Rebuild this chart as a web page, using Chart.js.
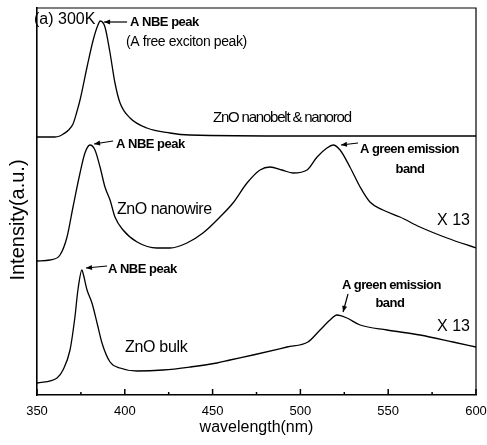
<!DOCTYPE html>
<html>
<head>
<meta charset="utf-8">
<script src="https://cdn.jsdelivr.net/npm/chart.js@4/dist/chart.umd.min.js"></script>
<style>
  html, body { margin: 0; padding: 0; background: #fff; }
  #plChart { display: block; }
</style>
</head>
<body>
<canvas id="plChart" width="487" height="445"></canvas>
<script>
// wavelength (nm) and stacked PL intensity (arbitrary offset units)
const nanobeltNm  = [350, 360, 363, 365, 368, 370.5, 372.5, 374.5, 378.5, 382, 384.7, 386, 388.7, 391.6, 394.4, 397.3, 403, 412.6, 425.7, 437, 500, 600];
const nanobeltInt = [258, 258, 259, 261, 265, 271, 282, 295, 328, 355, 370, 374, 368, 342, 312, 292, 277, 267, 262, 260, 259, 259];

const nanowireNm  = [350, 357.4, 363.1, 367.1, 370.5, 374.5, 377.3, 380.2, 383, 385.9, 388.7, 391.6, 394.4, 399, 407, 418.3, 425.7, 435.4, 444.5, 454.2, 461.6, 469.6, 477, 482.7, 489.5, 495.8, 503.8, 509.5, 515.1, 518.6, 522.6, 528.2, 534, 539.6, 547, 556.7, 568.1, 583.5, 600];
const nanowireInt = [134, 135, 140, 158, 188, 222, 242, 250, 245, 228, 208, 195, 178, 165, 153, 147, 147, 152, 162, 178, 192, 212, 225, 228, 225, 222, 225, 238, 247, 250, 245, 228, 208, 193, 185, 178, 168, 157, 147];

const bulkNm  = [350, 361.4, 364.8, 368.8, 371.6, 373.3, 375.6, 376.2, 378.5, 381.3, 384.2, 387, 391.6, 397.3, 407, 421.8, 437.1, 452.5, 459.9, 473, 492.4, 504.3, 511.2, 516.9, 520.8, 526.5, 534, 549.3, 568.1, 586.9, 600];
const bulkInt = [12, 17, 25, 45, 78, 105, 125, 122, 105, 92, 72, 52, 33, 27, 24, 25, 28, 32, 35, 40, 48, 53, 65, 75, 80, 77, 70, 65, 60, 53, 48];

const xTicks = [350, 400, 450, 500, 550, 600];
const xMinorTicks = [375, 425, 475, 525, 575];

const toPoints = (xs, ys) => xs.map((x, i) => ({ x: x, y: ys[i] }));

const boldNote = 'bold 13px "Liberation Sans", Arial';

// text labels placed in data coordinates
const labels = [
  { text: '(a) 300K', x: 348.3, y: 375, font: '16px "Liberation Sans", Arial' },
  { text: 'A NBE peak', x: 403, y: 373, font: boldNote, spacing: -0.5 },
  { text: '(A free exciton peak)', x: 400.7, y: 353, font: '14px "Liberation Sans", Arial', spacing: -0.4 },
  { text: 'ZnO nanobelt & nanorod', x: 450.2, y: 277, font: '15px "Liberation Sans", Arial', spacing: -1.2 },
  { text: 'A NBE peak', x: 395, y: 251, font: boldNote, spacing: -0.5 },
  { text: 'A green emission', x: 534, y: 246, font: boldNote, spacing: -0.6 },
  { text: 'band', x: 562.4, y: 226, font: boldNote, spacing: -0.5, align: 'center' },
  { text: 'ZnO nanowire', x: 395.6, y: 185, font: '16px "Liberation Sans", Arial', spacing: -0.5 },
  { text: 'X 13', x: 577.8, y: 174, font: '16px "Liberation Sans", Arial' },
  { text: 'A NBE peak', x: 390.4, y: 126, font: boldNote, spacing: -0.5 },
  { text: 'A green emission', x: 523.7, y: 110, font: boldNote, spacing: -0.6 },
  { text: 'band', x: 551, y: 92, font: boldNote, spacing: -0.5, align: 'center' },
  { text: 'X 13', x: 577.8, y: 68, font: '16px "Liberation Sans", Arial' },
  { text: 'ZnO bulk', x: 400.1, y: 47, font: '16px "Liberation Sans", Arial', spacing: -0.3 }
];

const arrows = [
  { from: [401.3, 373], to: [388.2, 373] },
  { from: [393.3, 254], to: [382.5, 251] },
  { from: [532.8, 252], to: [523.1, 250] },
  { from: [389.9, 129], to: [377.9, 127] },
  { from: [527.1, 101], to: [524.3, 83] }
];

const annotationPlugin = {
  id: 'annotations',
  afterDraw(chart) {
    const ctx = chart.ctx;
    const xs = chart.scales.x;
    const ys = chart.scales.y;
    const area = chart.chartArea;

    ctx.save();
    // top and right frame
    ctx.strokeStyle = '#000';
    ctx.lineWidth = 1.2;
    ctx.beginPath();
    ctx.moveTo(area.left, area.top);
    ctx.lineTo(area.right, area.top);
    ctx.lineTo(area.right, area.bottom);
    ctx.stroke();

    // inward ticks on the wavelength axis
    ctx.lineWidth = 1.5;
    xTicks.forEach(v => {
      const px = xs.getPixelForValue(v);
      ctx.beginPath();
      ctx.moveTo(px, area.bottom);
      ctx.lineTo(px, area.bottom - 6);
      ctx.stroke();
    });
    xMinorTicks.forEach(v => {
      const px = xs.getPixelForValue(v);
      ctx.beginPath();
      ctx.moveTo(px, area.bottom);
      ctx.lineTo(px, area.bottom - 3);
      ctx.stroke();
    });

    // arrows
    ctx.lineWidth = 1.2;
    ctx.fillStyle = '#000';
    arrows.forEach(a => {
      const x1 = xs.getPixelForValue(a.from[0]), y1 = ys.getPixelForValue(a.from[1]);
      const x2 = xs.getPixelForValue(a.to[0]), y2 = ys.getPixelForValue(a.to[1]);
      const ang = Math.atan2(y2 - y1, x2 - x1);
      ctx.beginPath();
      ctx.moveTo(x1, y1);
      ctx.lineTo(x2, y2);
      ctx.stroke();
      ctx.beginPath();
      ctx.moveTo(x2, y2);
      ctx.lineTo(x2 - 6 * Math.cos(ang) + 2.5 * Math.sin(ang), y2 - 6 * Math.sin(ang) - 2.5 * Math.cos(ang));
      ctx.lineTo(x2 - 6 * Math.cos(ang) - 2.5 * Math.sin(ang), y2 - 6 * Math.sin(ang) + 2.5 * Math.cos(ang));
      ctx.closePath();
      ctx.fill();
    });

    // labels
    ctx.textBaseline = 'middle';
    labels.forEach(l => {
      ctx.font = l.font;
      ctx.letterSpacing = (l.spacing || 0) + 'px';
      ctx.textAlign = l.align || 'left';
      ctx.fillText(l.text, xs.getPixelForValue(l.x), ys.getPixelForValue(l.y));
    });

    // y axis title
    ctx.letterSpacing = '0px';
    ctx.font = '20px "Liberation Sans", Arial';
    ctx.textAlign = 'center';
    ctx.translate(18, 220);
    ctx.rotate(-Math.PI / 2);
    ctx.fillText('Intensity(a.u.)', 0, 0);
    ctx.restore();
  }
};

const lineStyle = {
  borderColor: '#000',
  borderWidth: 1.3,
  pointRadius: 0,
  fill: false,
  showLine: true,
  cubicInterpolationMode: 'monotone'
};

new Chart(document.getElementById('plChart').getContext('2d'), {
  type: 'scatter',
  data: {
    datasets: [
      Object.assign({ label: 'ZnO nanobelt & nanorod', data: toPoints(nanobeltNm, nanobeltInt) }, lineStyle),
      Object.assign({ label: 'ZnO nanowire', data: toPoints(nanowireNm, nanowireInt) }, lineStyle),
      Object.assign({ label: 'ZnO bulk', data: toPoints(bulkNm, bulkInt) }, lineStyle)
    ]
  },
  options: {
    responsive: false,
    animation: false,
    layout: { padding: { top: 8, right: 11, left: 0, bottom: 0 } },
    plugins: {
      legend: { display: false },
      tooltip: { enabled: false }
    },
    scales: {
      x: {
        type: 'linear',
        min: 350,
        max: 600,
        afterFit: s => {
          s.height = 50;
          s.paddingLeft = 0;
          s.paddingRight = 0;
        },
        afterBuildTicks: s => { s.ticks = xTicks.map(v => ({ value: v })); },
        grid: { display: false, drawTicks: false },
        border: { display: true, color: '#000', width: 1.6 },
        ticks: {
          padding: 9,
          color: '#000',
          font: { family: '"Liberation Sans", Arial', size: 13 }
        },
        title: {
          display: true,
          text: 'wavelength(nm)',
          color: '#000',
          font: { family: '"Liberation Sans", Arial', size: 16 },
          padding: { top: 0, bottom: 8 }
        }
      },
      y: {
        type: 'linear',
        min: 0,
        max: 387,
        afterFit: s => { s.width = 37; },
        grid: { display: false, drawTicks: false },
        border: { display: true, color: '#000', width: 1.6 },
        ticks: { display: false }
      }
    }
  },
  plugins: [annotationPlugin]
});
</script>
</body>
</html>
